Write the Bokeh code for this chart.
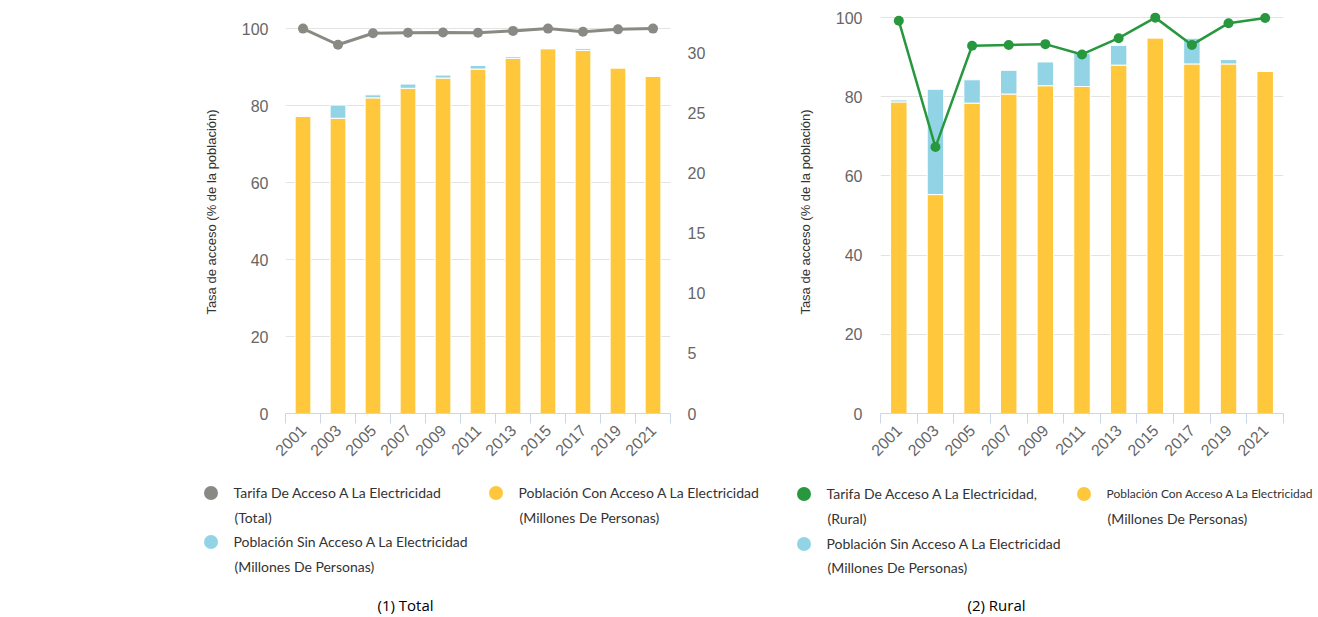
import numpy as np
from bokeh.plotting import figure
from bokeh.models import (ColumnDataSource, Range1d, LinearAxis, FixedTicker,
                          Legend, LegendItem, Label)
from bokeh.layouts import row, column
from bokeh.embed import file_html
from bokeh.resources import INLINE

# ---------------- data ----------------
years = ["2001", "2003", "2005", "2007", "2009", "2011", "2013", "2015", "2017", "2019", "2021"]

# (1) Total
total_rate = [100.0, 95.8, 98.8, 98.9, 99.0, 98.9, 99.4, 100.0, 99.2, 99.8, 100.0]   # %
total_con = [24.75, 24.6, 26.3, 27.1, 27.95, 28.7, 29.6, 30.4, 30.25, 28.8, 28.1]   # millions
total_sin = [0.0, 1.1, 0.25, 0.35, 0.25, 0.3, 0.15, 0.0, 0.15, 0.0, 0.0]           # millions

# (2) Rural
rural_rate = [99.2, 67.3, 92.9, 93.1, 93.3, 90.7, 94.8, 100.0, 93.1, 98.6, 99.9]
rural_con = [78.7, 55.3, 78.4, 80.7, 82.8, 82.6, 88.0, 94.9, 88.3, 88.3, 86.4]
rural_sin = [0.5, 26.6, 5.9, 6.0, 6.0, 8.4, 5.0, 0.0, 6.5, 1.1, 0.0]

left_ticks = [0, 20, 40, 60, 80, 100]
right_ticks = [0, 5, 10, 15, 20, 25, 30]

axis_title = "Tasa de acceso (% de la población)"
leg_rate_total = ("Tarifa De Acceso A La Electricidad", "(Total)")
leg_rate_rural = ("Tarifa De Acceso A La Electricidad,", "(Rural)")
leg_con = ("Población Con Acceso A La Electricidad", "(Millones De Personas)")
leg_sin = ("Población Sin Acceso A La Electricidad", "(Millones De Personas)")
captions = ["(1) Total", "(2) Rural"]

# ---------------- styles ----------------
YELLOW = "#FFC73C"
BLUE = "#92D4E5"
GRAY_LINE = "#8A8984"
GREEN = "#27983E"
TICK_C = "#666666"
AXIS_C = "#CCD6EB"
GRID_C = "#E3E3E3"
TEXT_C = "#333333"
TICK_FONT = "Liberation Sans"
LEG_FONT = "Lato"

n = len(years)
xs = [i + 0.5 for i in range(n)]

TOP_H = 470      # height of the chart row
FT, FB = 10, 413  # frame top / bottom (page px)


def style_x(ax):
    ax.ticker = FixedTicker(ticks=xs, minor_ticks=list(range(n + 1)))
    ax.major_label_overrides = {x: y for x, y in zip(xs, years)}
    ax.major_label_orientation = np.pi / 4
    ax.major_tick_line_color = None
    ax.major_tick_in = 0
    ax.major_tick_out = 0
    ax.minor_tick_line_color = AXIS_C
    ax.minor_tick_in = 0
    ax.minor_tick_out = 10
    ax.axis_line_color = AXIS_C
    ax.major_label_text_color = TICK_C
    ax.major_label_text_font = TICK_FONT
    ax.major_label_text_font_size = "16px"
    ax.major_label_standoff = 4


def style_y(ax, ticks, standoff):
    ax.ticker = FixedTicker(ticks=ticks)
    ax.axis_line_color = None
    ax.major_tick_line_color = None
    ax.minor_tick_line_color = None
    ax.major_tick_in = 0
    ax.major_tick_out = 0
    ax.major_label_text_color = TICK_C
    ax.major_label_text_font = TICK_FONT
    ax.major_label_text_font_size = "16px"
    ax.major_label_standoff = standoff


def axis_label(ax):
    ax.axis_label = axis_title
    ax.axis_label_text_font = TICK_FONT
    ax.axis_label_text_font_style = "normal"
    ax.axis_label_text_font_size = "13px"
    ax.axis_label_text_color = TEXT_C
    ax.axis_label_standoff = 20


# ---------------- panel 1: Total ----------------
p1 = figure(width=708, height=TOP_H, x_range=Range1d(0, n), y_range=Range1d(0, 104.7),
            output_backend="svg", toolbar_location=None,
            min_border_left=285, min_border_right=36, min_border_top=FT,
            min_border_bottom=TOP_H - FB, outline_line_color=None)
p1.extra_y_ranges = {"pop": Range1d(0, 33.58)}
p1.xgrid.visible = False
p1.ygrid.grid_line_color = GRID_C
style_x(p1.xaxis[0])
style_y(p1.yaxis[0], left_ticks, 17)
axis_label(p1.yaxis[0])
rax = LinearAxis(y_range_name="pop")
style_y(rax, right_ticks, 17)
p1.add_layout(rax, "right")

s1 = ColumnDataSource(dict(x=xs, con=total_con,
                           tot=[c + s for c, s in zip(total_con, total_sin)], rate=total_rate))
p1.vbar(x="x", width=0.45, bottom=0, top="con", source=s1, fill_color=YELLOW,
        line_color="white", line_width=1, y_range_name="pop")
p1.vbar(x="x", width=0.45, bottom="con", top="tot", source=s1, fill_color=BLUE,
        line_color="white", line_width=1, y_range_name="pop")
p1.line(x="x", y="rate", source=s1, line_color=GRAY_LINE, line_width=3)
p1.scatter(x="x", y="rate", source=s1, size=10, fill_color=GRAY_LINE, line_color=None)

# ---------------- panel 2: Rural ----------------
p2 = figure(width=608, height=TOP_H, x_range=Range1d(0, n), y_range=Range1d(0, 101.8),
            output_backend="svg", toolbar_location=None,
            min_border_left=172, min_border_right=33, min_border_top=FT,
            min_border_bottom=TOP_H - FB, outline_line_color=None)
p2.xgrid.visible = False
p2.ygrid.grid_line_color = GRID_C
style_x(p2.xaxis[0])
style_y(p2.yaxis[0], left_ticks, 18)
axis_label(p2.yaxis[0])

s2 = ColumnDataSource(dict(x=xs, con=rural_con,
                           tot=[c + s for c, s in zip(rural_con, rural_sin)], rate=rural_rate))
p2.vbar(x="x", width=0.45, bottom=0, top="con", source=s2, fill_color=YELLOW,
        line_color="white", line_width=1)
p2.vbar(x="x", width=0.45, bottom="con", top="tot", source=s2, fill_color=BLUE,
        line_color="white", line_width=1)
p2.line(x="x", y="rate", source=s2, line_color=GREEN, line_width=2.5)
p2.scatter(x="x", y="rate", source=s2, size=10, fill_color=GREEN, line_color=None)

# ---------------- legend / caption strip ----------------
W = 708 + 608
LH = 145
Y0 = TOP_H
lf = figure(width=W, height=LH, x_range=Range1d(0, W), y_range=Range1d(Y0 + LH, Y0),
            output_backend="svg", toolbar_location=None, min_border=0,
            x_axis_location=None, y_axis_location=None, outline_line_color=None)
lf.grid.visible = False

G = 35


def legend_item(color, texts, dot_x, dot_y, text_x, line2_y, size1="14px"):
    # legend swatch renderer: a single NaN point, so nothing is drawn in the strip itself
    r = lf.scatter(x=[np.nan], y=[np.nan], fill_color=color, line_color=None)
    lg = Legend(items=[LegendItem(label=texts[0], renderers=[r])],
                location=(dot_x - G / 2, (Y0 + LH) - (dot_y + G / 2)),
                glyph_width=G, glyph_height=G, label_standoff=int(text_x - dot_x - G / 2),
                padding=0, margin=0, spacing=0, border_line_color=None,
                background_fill_alpha=0, label_text_font=LEG_FONT,
                label_text_font_size=size1, label_text_color=TEXT_C, label_height=14)
    lf.add_layout(lg, "center")
    lf.add_layout(Label(x=text_x, y=line2_y, text=texts[1], text_baseline="middle",
                        text_font=LEG_FONT, text_font_size="14px", text_color=TEXT_C))


legend_item(GRAY_LINE, leg_rate_total, 210, 492, 234, 517)
legend_item(YELLOW, leg_con, 495, 492, 519, 517)
legend_item(BLUE, leg_sin, 210, 541, 234, 566)
legend_item(GREEN, leg_rate_rural, 803, 493, 827, 518)
legend_item(YELLOW, leg_con, 1083, 493, 1107, 518, size1="12px")
legend_item(BLUE, leg_sin, 803, 543, 827, 567)

for cap, cx in zip(captions, [405, 996]):
    lf.add_layout(Label(x=cx, y=604, text=cap, text_align="center", text_baseline="middle",
                        text_font="Open Sans", text_font_size="15px", text_color="#000000"))

layout = column(row(p1, p2, spacing=0), lf, spacing=0)
open("out.html", "w").write(file_html(layout, INLINE))
